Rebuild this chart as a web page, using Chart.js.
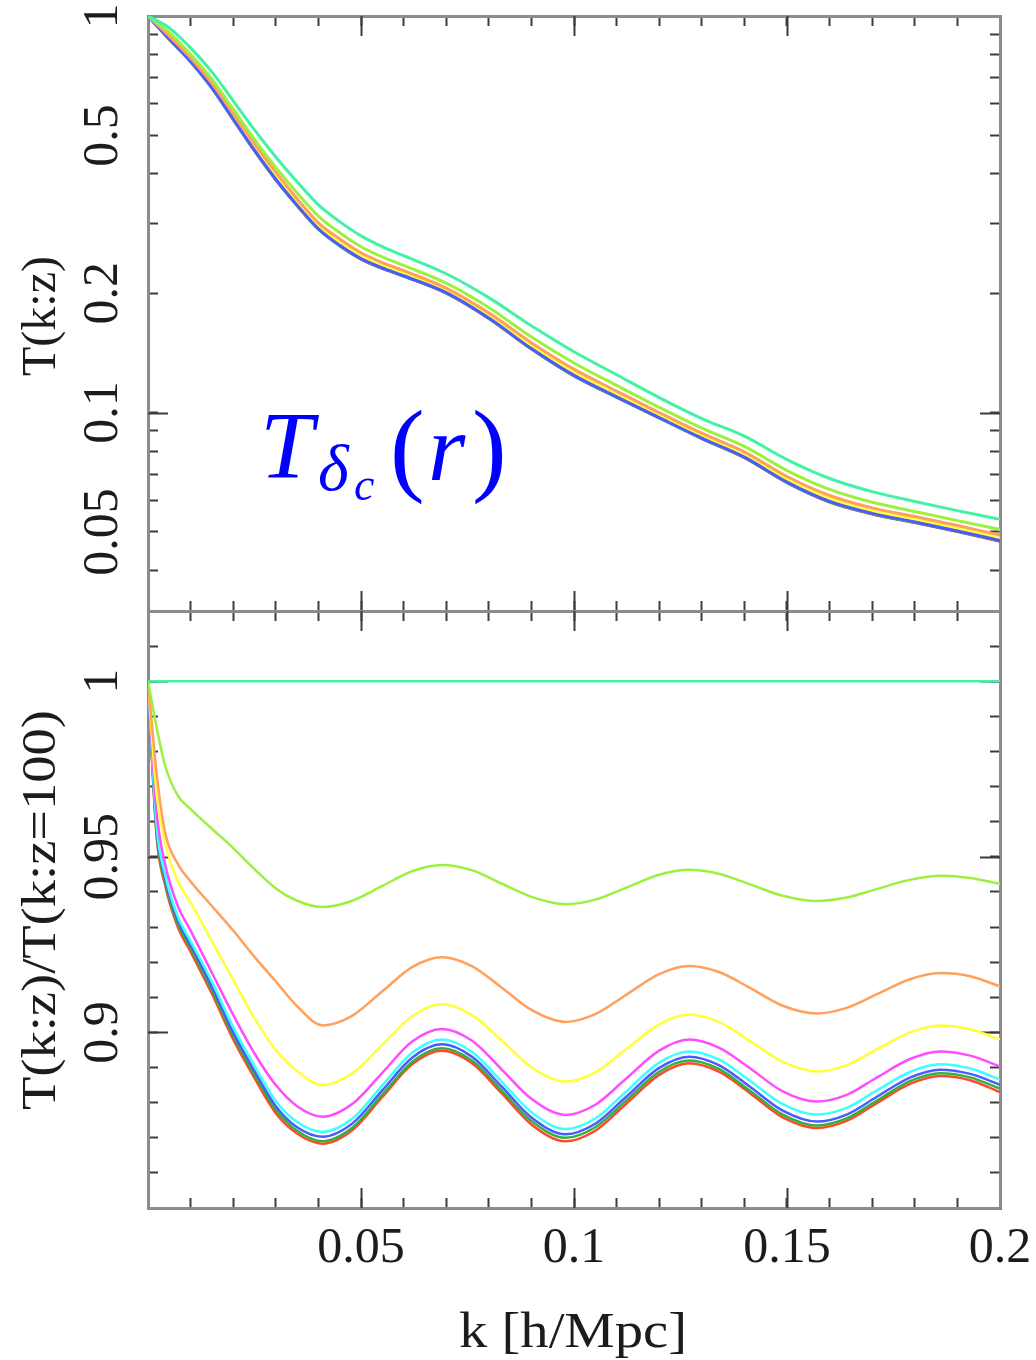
<!DOCTYPE html>
<html>
<head>
<meta charset="utf-8">
<script src="https://cdn.jsdelivr.net/npm/chart.js@4.4.0/dist/chart.umd.min.js"></script>
<style>
html, body { margin: 0; padding: 0; background: #fff; }
#page { position: relative; width: 1036px; height: 1360px; background: #fff; }
#page canvas { position: absolute; left: 0; top: 0; }
</style>
</head>
<body>
<div id="page">
<canvas id="topPanel" width="1036" height="1360"></canvas>
<canvas id="bottomPanel" width="1036" height="1360"></canvas>
</div>
<script>
'use strict';

// upper panel: T(k:z)
var kTop = [0, 0.005, 0.01, 0.015, 0.02, 0.025, 0.03, 0.035, 0.04, 0.045, 0.05, 0.055, 0.06, 0.07, 0.08, 0.09, 0.1, 0.11, 0.12, 0.13, 0.14, 0.15, 0.16, 0.17, 0.18, 0.19, 0.2];
var tSpring = [1, 0.933, 0.831, 0.723, 0.611, 0.516, 0.441, 0.382, 0.334, 0.303, 0.279, 0.262, 0.2486, 0.2239, 0.1949, 0.1656, 0.1424, 0.1246, 0.1091, 0.0966, 0.0872, 0.0761, 0.0682, 0.0632, 0.0597, 0.0566, 0.0538];
var tLime = [1, 0.908, 0.800, 0.693, 0.582, 0.488, 0.415, 0.358, 0.313, 0.284, 0.262, 0.247, 0.235, 0.212, 0.184, 0.155, 0.1334, 0.1171, 0.1031, 0.0914, 0.0822, 0.0714, 0.064, 0.0594, 0.0563, 0.0534, 0.0507];
var tOrange = [1, 0.890, 0.784, 0.677, 0.568, 0.476, 0.404, 0.346, 0.301, 0.274, 0.253, 0.239, 0.228, 0.206, 0.1784, 0.1501, 0.1287, 0.1133, 0.1, 0.0887, 0.0796, 0.069, 0.0618, 0.0575, 0.0547, 0.0519, 0.0491];
var tYellow = [1, 0.886, 0.779, 0.669, 0.559, 0.466, 0.395, 0.340, 0.296, 0.2685, 0.2482, 0.2349, 0.2244, 0.2033, 0.1756, 0.1474, 0.1263, 0.1113, 0.0984, 0.0873, 0.0783, 0.0678, 0.0607, 0.0565, 0.0538, 0.051, 0.0483];
var tMagenta = [1, 0.878, 0.772, 0.663, 0.553, 0.461, 0.390, 0.336, 0.2928, 0.2659, 0.2458, 0.2328, 0.2225, 0.2016, 0.1741, 0.1459, 0.1249, 0.1102, 0.0976, 0.0866, 0.0777, 0.0672, 0.0601, 0.056, 0.0533, 0.0506, 0.0479];
var tCyan = [1, 0.876, 0.7695, 0.6612, 0.5508, 0.4595, 0.3883, 0.334, 0.2912, 0.2645, 0.2448, 0.2318, 0.2216, 0.2009, 0.1734, 0.1453, 0.1243, 0.1098, 0.0973, 0.0863, 0.0773, 0.0669, 0.0598, 0.0558, 0.0531, 0.0504, 0.0477];
var tBlue = [1, 0.875, 0.7687, 0.6601, 0.5499, 0.4587, 0.3876, 0.3335, 0.2908, 0.2641, 0.2444, 0.2315, 0.2213, 0.2006, 0.1731, 0.145, 0.1241, 0.1096, 0.0971, 0.0862, 0.0772, 0.0668, 0.0597, 0.0557, 0.053, 0.0503, 0.0476];
var tGreen = [1, 0.874, 0.768, 0.659, 0.549, 0.458, 0.387, 0.333, 0.2904, 0.2637, 0.2441, 0.2312, 0.221, 0.2003, 0.1729, 0.1448, 0.1239, 0.1094, 0.097, 0.0861, 0.0771, 0.0667, 0.0596, 0.0556, 0.0529, 0.0502, 0.0475];
var tRed = [1, 0.873, 0.767, 0.658, 0.548, 0.457, 0.3865, 0.3325, 0.29, 0.2634, 0.2438, 0.231, 0.2208, 0.2001, 0.1727, 0.1446, 0.1237, 0.1093, 0.0969, 0.086, 0.077, 0.0666, 0.0595, 0.0555, 0.0528, 0.0501, 0.0474];

// lower panel: T(k:z)/T(k:z=100)
var kBot = [0, 0.002, 0.004, 0.007, 0.01, 0.015, 0.02, 0.025, 0.03, 0.035, 0.041, 0.048, 0.055, 0.062, 0.069, 0.076, 0.083, 0.09, 0.098, 0.105, 0.112, 0.12, 0.127, 0.134, 0.141, 0.149, 0.157, 0.164, 0.171, 0.179, 0.186, 0.193, 0.2];
var rSpring = [1, 1, 1, 1, 1, 1, 1, 1, 1, 1, 1, 1, 1, 1, 1, 1, 1, 1, 1, 1, 1, 1, 1, 1, 1, 1, 1, 1, 1, 1, 1, 1, 1];
var rLime = [1, 0.987, 0.976, 0.9674, 0.9636, 0.958, 0.9525, 0.9465, 0.941, 0.9375, 0.9357, 0.9375, 0.9417, 0.9459, 0.9477, 0.9462, 0.9424, 0.9386, 0.9365, 0.9378, 0.9411, 0.9449, 0.9463, 0.9452, 0.9423, 0.9389, 0.9374, 0.9384, 0.9408, 0.9435, 0.9446, 0.944, 0.9423];
var rOrange = [1, 0.974, 0.957, 0.948, 0.943, 0.936, 0.929, 0.9215, 0.9145, 0.9075, 0.902, 0.9048, 0.9117, 0.9186, 0.9214, 0.9189, 0.9128, 0.9064, 0.903, 0.9052, 0.9105, 0.9166, 0.9189, 0.9172, 0.9129, 0.9076, 0.9054, 0.907, 0.9108, 0.9152, 0.9169, 0.916, 0.9131];
var rYellow = [1, 0.968, 0.954, 0.943, 0.937, 0.926, 0.915, 0.904, 0.895, 0.889, 0.885, 0.8884, 0.8965, 0.9046, 0.908, 0.905, 0.8977, 0.8901, 0.886, 0.8886, 0.895, 0.9023, 0.9051, 0.903, 0.8978, 0.8916, 0.8889, 0.8907, 0.8951, 0.9001, 0.902, 0.9009, 0.898];
var rMagenta = [1, 0.963, 0.948, 0.936, 0.929, 0.917, 0.905, 0.894, 0.885, 0.879, 0.876, 0.8797, 0.8885, 0.8974, 0.901, 0.8977, 0.8895, 0.8811, 0.8765, 0.8794, 0.8866, 0.8948, 0.898, 0.8957, 0.8901, 0.8832, 0.8803, 0.8822, 0.8871, 0.8925, 0.8946, 0.8934, 0.8903];
var rCyan = [1, 0.959, 0.945, 0.933, 0.926, 0.9145, 0.9015, 0.8905, 0.8805, 0.8745, 0.8717, 0.8755, 0.8849, 0.8942, 0.898, 0.8945, 0.886, 0.8773, 0.8725, 0.8755, 0.8829, 0.8914, 0.8946, 0.8923, 0.8865, 0.8796, 0.8766, 0.8785, 0.8834, 0.8888, 0.8909, 0.8897, 0.8866];
var rBlue = [1, 0.958, 0.944, 0.932, 0.925, 0.913, 0.9, 0.889, 0.879, 0.873, 0.8703, 0.8741, 0.8835, 0.8928, 0.8966, 0.8931, 0.8846, 0.8758, 0.871, 0.874, 0.8814, 0.8899, 0.8931, 0.8907, 0.8848, 0.8777, 0.8746, 0.8766, 0.8816, 0.8872, 0.8894, 0.8882, 0.8851];
var rGreen = [1, 0.957, 0.943, 0.931, 0.924, 0.912, 0.899, 0.888, 0.878, 0.872, 0.869, 0.8729, 0.8823, 0.8916, 0.8955, 0.892, 0.8835, 0.8748, 0.87, 0.873, 0.8803, 0.8888, 0.892, 0.8896, 0.8837, 0.8766, 0.8735, 0.8755, 0.8805, 0.8862, 0.8884, 0.8872, 0.884];
var rRed = [1, 0.956, 0.942, 0.93, 0.923, 0.911, 0.898, 0.887, 0.877, 0.8712, 0.8683, 0.8722, 0.8816, 0.8909, 0.8948, 0.8913, 0.8827, 0.8738, 0.869, 0.872, 0.8794, 0.8879, 0.8912, 0.8888, 0.883, 0.8758, 0.8728, 0.8748, 0.8798, 0.8854, 0.8876, 0.8864, 0.883];

// ticks and labels
var kTicks = [0, 0.01, 0.02, 0.03, 0.04, 0.05, 0.06, 0.07, 0.08, 0.09, 0.1, 0.11, 0.12, 0.13, 0.14, 0.15, 0.16, 0.17, 0.18, 0.19, 0.2];
var kMajor = [0.05, 0.1, 0.15];
var kLabels = [0.05, 0.1, 0.15, 0.2];
var topTicks = [0.04, 0.05, 0.06, 0.07, 0.08, 0.09, 0.1, 0.2, 0.3, 0.4, 0.5, 0.6, 0.7, 0.8, 0.9, 1];
var topMajor = [0.1];
var topLabels = [1, 0.5, 0.2, 0.1, 0.05];
var botTicks = [0.85, 0.86, 0.87, 0.88, 0.89, 0.9, 0.91, 0.92, 0.93, 0.94, 0.95, 0.96, 0.97, 0.98, 0.99, 1, 1.01, 1.02];
var botMajor = [0.9, 0.95, 1];
var botLabels = [1, 0.95, 0.9];

var colors = {
    spring: '#44f2a6', lime: '#9cf03e', orange: '#ffa05c', yellow: '#ffff3a',
    magenta: '#ff4cff', cyan: '#3cffff', blue: '#4a5cff', green: '#34b040', red: '#ff4a2a'
};

var FRAME = '#8c8c8c', TICK = '#3c3c3c', INK = '#1c1c1c';
var SERIF = '"Liberation Serif", "DejaVu Serif", serif';

function points(ks, vs) {
    return ks.map(function (k, i) { return {x: k, y: vs[i]}; });
}

function line(color, ks, vs, width) {
    return {
        data: points(ks, vs), borderColor: color, borderWidth: width,
        pointRadius: 0, fill: false, cubicInterpolationMode: 'monotone'
    };
}

function edgeAxis(pos, type, min, max, tickVals) {
    return {
        type: type, position: pos, min: min, max: max,
        afterBuildTicks: function (scale) {
            scale.ticks = tickVals.map(function (v) { return {value: v}; });
        },
        afterFit: function (scale) {
            if (scale.isHorizontal()) scale.height = 0; else scale.width = 0;
        },
        ticks: {display: false},
        grid: {drawOnChartArea: false, drawTicks: true, tickLength: -10, tickColor: TICK, tickWidth: 2},
        border: {display: true, color: FRAME, width: 3}
    };
}

function drawText(ctx, str, x, y, vertical, fitWidth) {
    ctx.save();
    ctx.translate(x, y);
    if (vertical) ctx.rotate(-Math.PI / 2);
    if (fitWidth) {
        var w = ctx.measureText(str).width;
        ctx.scale(fitWidth / w, 1);
    }
    ctx.fillText(str, 0, 0);
    ctx.restore();
}

// longer inward ticks at the labelled values
var majorTicks = {
    id: 'majorTicks',
    beforeDatasetsDraw: function (chart, args, opts) {
        var ctx = chart.ctx, a = chart.chartArea;
        var xs = chart.scales.x, ys = chart.scales.y;
        ctx.save();
        ctx.strokeStyle = TICK;
        ctx.lineWidth = 2;
        ctx.beginPath();
        opts.x.forEach(function (v) {
            var px = Math.round(xs.getPixelForValue(v)) + 0.5;
            ctx.moveTo(px, a.top); ctx.lineTo(px, a.top + 20);
            ctx.moveTo(px, a.bottom); ctx.lineTo(px, a.bottom - 20);
        });
        opts.y.forEach(function (v) {
            var py = Math.round(ys.getPixelForValue(v)) + 0.5;
            ctx.moveTo(a.left, py); ctx.lineTo(a.left + 20, py);
            ctx.moveTo(a.right, py); ctx.lineTo(a.right - 20, py);
        });
        ctx.stroke();
        ctx.restore();
    }
};

var labelText = {
    id: 'labelText',
    afterDraw: function (chart, args, opts) {
        var ctx = chart.ctx;
        var xs = chart.scales.x, ys = chart.scales.y;
        ctx.save();
        ctx.fillStyle = INK;
        ctx.textAlign = 'center';
        ctx.textBaseline = 'middle';
        ctx.font = '50px ' + SERIF;
        opts.yLabels.forEach(function (v) {
            drawText(ctx, String(v), 104, ys.getPixelForValue(v), true);
        });
        (opts.xLabels || []).forEach(function (v) {
            drawText(ctx, String(v), xs.getPixelForValue(v), 1249, false);
        });
        ctx.font = '48px ' + SERIF;
        drawText(ctx, opts.yTitle, 42, opts.yTitleAt, true, opts.yTitleWidth);
        if (opts.xTitle) {
            ctx.font = '50px ' + SERIF;
            drawText(ctx, opts.xTitle, 573, 1334, false, 228);
        }
        if (opts.note) {
            ctx.fillStyle = '#0000ff';
            ctx.textAlign = 'left';
            ctx.textBaseline = 'alphabetic';
            ctx.font = 'italic 96px ' + SERIF;
            ctx.fillText('T', 260, 478);
            ctx.font = 'italic 66px ' + SERIF;
            ctx.fillText('\u03b4', 318, 490);
            ctx.font = 'italic 46px ' + SERIF;
            ctx.fillText('c', 354, 500);
            ctx.font = '104px ' + SERIF;
            ctx.fillText('(', 390, 482);
            ctx.font = 'italic 96px ' + SERIF;
            ctx.fillText('r', 428, 480);
            ctx.font = '104px ' + SERIF;
            ctx.fillText(')', 472, 482);
        }
        ctx.restore();
    }
};

function baseOptions(padding, yType, yMin, yMax, yTicks) {
    return {
        responsive: false,
        animation: false,
        events: [],
        layout: {padding: padding},
        plugins: {legend: {display: false}, tooltip: {enabled: false}},
        scales: {
            x: edgeAxis('bottom', 'linear', 0, 0.2, kTicks),
            x2: edgeAxis('top', 'linear', 0, 0.2, kTicks),
            y: edgeAxis('left', yType, yMin, yMax, yTicks),
            y2: edgeAxis('right', yType, yMin, yMax, yTicks)
        }
    };
}

var topOpts = baseOptions({left: 148, right: 36, top: 16, bottom: 749}, 'logarithmic', 0.0316, 1, topTicks);
topOpts.plugins.majorTicks = {x: kMajor, y: topMajor};
topOpts.plugins.labelText = {yLabels: topLabels, yTitle: 'T(k:z)', yTitleAt: 316, note: true};

new Chart(document.getElementById('topPanel'), {
    type: 'line',
    data: {
        datasets: [
            line(colors.spring, kTop, tSpring, 3),
            line(colors.lime, kTop, tLime, 3),
            line(colors.orange, kTop, tOrange, 3),
            line(colors.blue, kTop, tBlue, 3),
            line(colors.yellow, kTop, tYellow, 3),
            line(colors.magenta, kTop, tMagenta, 3),
            line(colors.cyan, kTop, tCyan, 3),
            line(colors.green, kTop, tGreen, 3),
            line(colors.red, kTop, tRed, 3)
        ]
    },
    options: topOpts,
    plugins: [majorTicks, labelText]
});

var botOpts = baseOptions({left: 148, right: 36, top: 611, bottom: 152}, 'linear', 0.85, 1.02, botTicks);
botOpts.plugins.majorTicks = {x: kMajor, y: botMajor};
botOpts.plugins.labelText = {
    yLabels: botLabels, xLabels: kLabels,
    yTitle: 'T(k:z)/T(k:z=100)', yTitleAt: 910, yTitleWidth: 400,
    xTitle: 'k [h/Mpc]'
};

new Chart(document.getElementById('bottomPanel'), {
    type: 'line',
    data: {
        datasets: [
            line(colors.spring, kBot, rSpring, 2.5),
            line(colors.lime, kBot, rLime, 2.5),
            line(colors.orange, kBot, rOrange, 2.5),
            line(colors.yellow, kBot, rYellow, 2.5),
            line(colors.magenta, kBot, rMagenta, 2.5),
            line(colors.cyan, kBot, rCyan, 2.5),
            line(colors.blue, kBot, rBlue, 2.5),
            line(colors.green, kBot, rGreen, 2.5),
            line(colors.red, kBot, rRed, 2.5)
        ]
    },
    options: botOpts,
    plugins: [majorTicks, labelText]
});
</script>
</body>
</html>
